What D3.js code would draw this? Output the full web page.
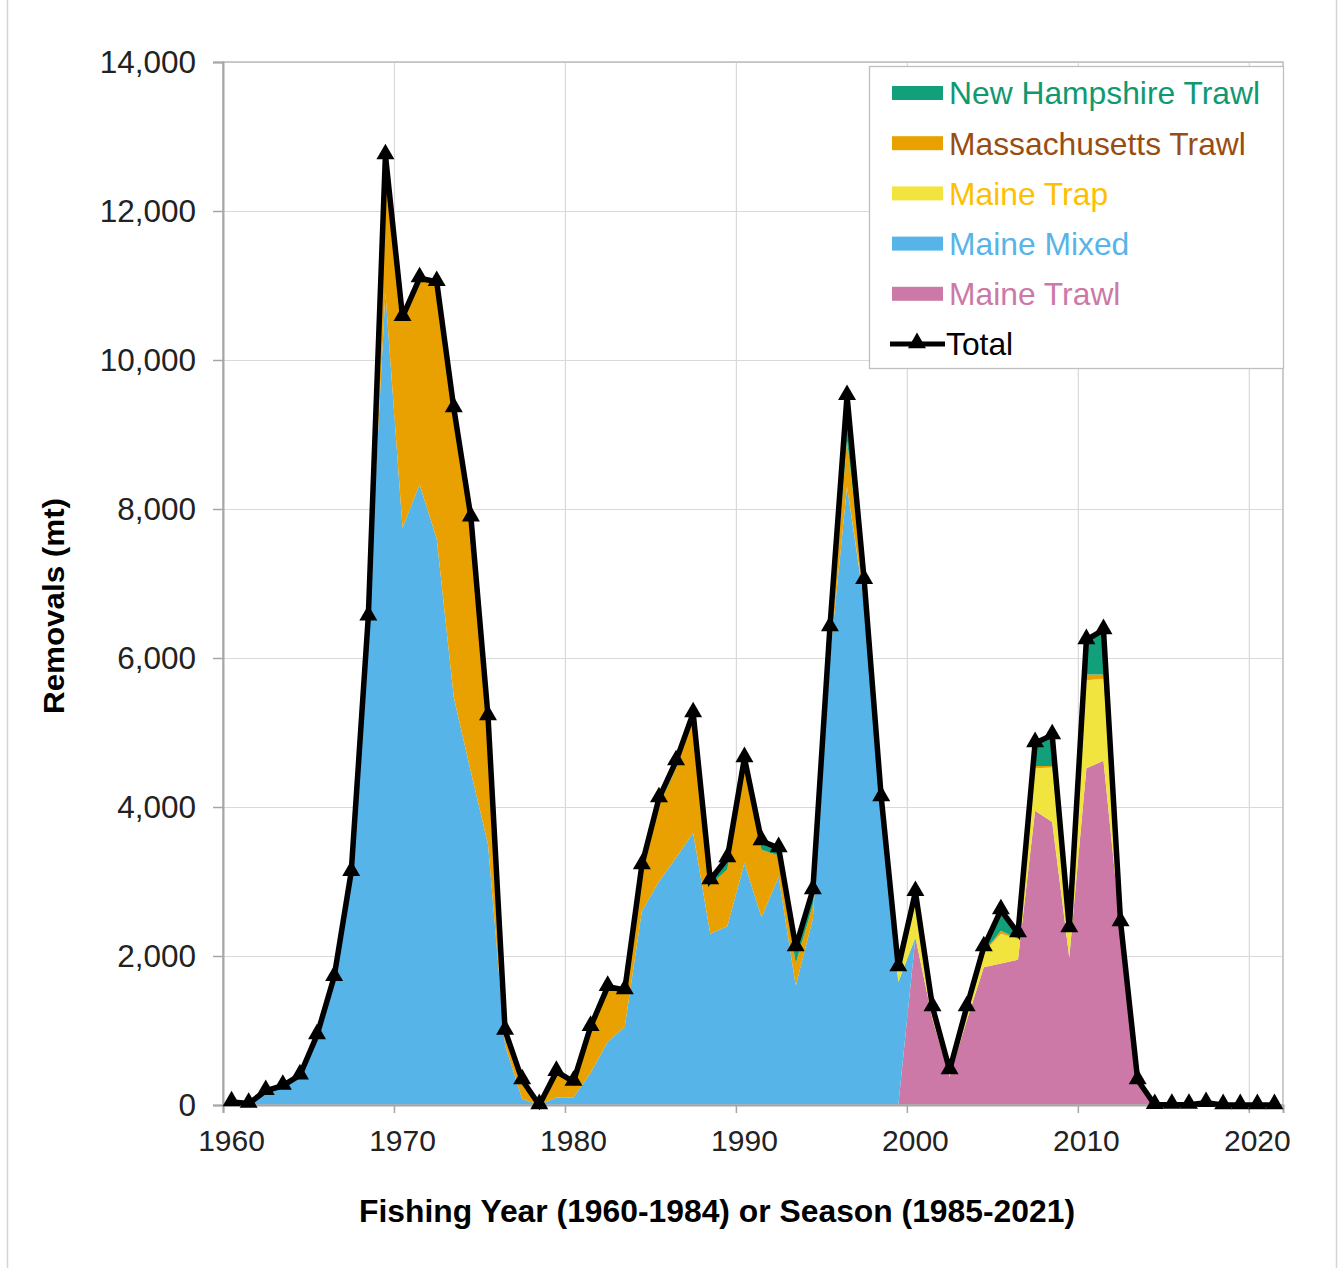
<!DOCTYPE html>
<html>
<head>
<meta charset="utf-8">
<script src="https://cdn.jsdelivr.net/npm/d3@7"></script>
<style>
  html, body { margin: 0; padding: 0; background: #fff; }
  svg { display: block; }
</style>
</head>
<body>
<svg id="chart" width="1343" height="1268"></svg>
<script>
// ---------------- DATA ----------------
const years = d3.range(1960, 2022);
const seriesKeys = ["Maine Trawl", "Maine Mixed", "Maine Trap", "Massachusetts Trawl", "New Hampshire Trawl"];
const legendOrder = ["New Hampshire Trawl", "Massachusetts Trawl", "Maine Trap", "Maine Mixed", "Maine Trawl"];

// Maine Mixed (1960-2021)
const maineMixed = [
  40, 20, 190, 260, 400, 940, 1720, 3130, 6560, 10900,
  7750, 8330, 7600, 5470, 4470, 3500, 800, 80, 0, 100,
  100, 430, 850, 1050, 2600, 3000, 3320, 3650, 2300, 2400,
  3250, 2520, 3060, 1600, 2500, 6000, 8300, 6750, 3950, 1650,
  0, 0, 0, 0, 0, 0, 0, 0, 0, 0,
  0, 0, 0, 0, 0, 0, 0, 0, 0, 0,
  0, 0
];
// Massachusetts Trawl
const massTrawl = [
  0, 0, 0, 0, 0, 0, 0, 0, 0, 1850,
  2830, 2770, 3450, 3885, 3420, 1720, 200, 255, 0, 347,
  213, 621, 738, 494, 600, 1020, 1200, 1540, 650, 765,
  1250, 904, 290, 300, 180, 215, 620, 160, 75, 30,
  30, 0, 0, 0, 0, 40, 0, 30, 20, 0,
  80, 60, 0, 0, 0, 0, 0, 0, 0, 0,
  0, 0
];
// Maine Trap
const maineTrap = [
  0, 0, 0, 0, 0, 0, 0, 0, 0, 0,
  0, 0, 0, 0, 0, 0, 0, 0, 0, 0,
  0, 0, 0, 0, 0, 0, 0, 0, 0, 0,
  0, 0, 0, 0, 0, 0, 0, 30, 60, 150,
  480, 145, 85, 170, 200, 400, 280, 570, 730, 340,
  1180, 1100, 90, 15, 0, 0, 0, 0, 0, 0,
  0, 0
];
// New Hampshire Trawl
const nhTrawl = [
  0, 0, 0, 0, 0, 0, 0, 0, 0, 0,
  0, 0, 0, 0, 0, 0, 0, 0, 0, 0,
  0, 0, 0, 0, 21, 100, 97, 70, 70, 150,
  158, 120, 100, 220, 206, 200, 600, 110, 50, 20,
  100, 20, 5, 15, 70, 277, 78, 309, 416, 55,
  462, 596, 16, 0, 0, 0, 0, 0, 0, 0,
  0, 0
];
// Maine Trawl
const maineTrawl = [
  0, 0, 0, 0, 0, 0, 0, 0, 0, 0,
  0, 0, 0, 0, 0, 0, 0, 0, 0, 0,
  0, 0, 0, 0, 0, 0, 0, 0, 0, 0,
  0, 0, 0, 0, 0, 0, 0, 0, 0, 0,
  2250, 1150, 380, 1130, 1850, 1900, 1950, 3950, 3800, 1980,
  4520, 4620, 2350, 320, 2, 5, 5, 30, 0, 0,
  0, 0
];

const yTicks = [0, 2000, 4000, 6000, 8000, 10000, 12000, 14000];
const xLabelYears = [1960, 1970, 1980, 1990, 2000, 2010, 2020];

const fillColors = {
  "New Hampshire Trawl": "#12a07a",
  "Massachusetts Trawl": "#e8a100",
  "Maine Trap": "#f1e43e",
  "Maine Mixed": "#56b4e9",
  "Maine Trawl": "#cc79a7"
};
const textColors = {
  "New Hampshire Trawl": "#0f9970",
  "Massachusetts Trawl": "#9a4d12",
  "Maine Trap": "#ffbf00",
  "Maine Mixed": "#56b4e9",
  "Maine Trawl": "#cc79a7"
};

// ---------------- BUILD TABLE ----------------
const table = years.map((yr, i) => ({
  year: yr,
  "Maine Trawl": maineTrawl[i],
  "Maine Mixed": maineMixed[i],
  "Maine Trap": maineTrap[i],
  "Massachusetts Trawl": massTrawl[i],
  "New Hampshire Trawl": nhTrawl[i]
}));
const totals = table.map(d => ({ year: d.year, total: d3.sum(seriesKeys, k => d[k]) }));

// ---------------- LAYOUT ----------------
const svg = d3.select("#chart");
const L = 223, R = 1283, T = 62, B = 1105;
const font = "'Liberation Sans', Arial, Helvetica, sans-serif";
const narrow = "'Liberation Sans Narrow', 'Arial Narrow', 'Liberation Sans', Arial, sans-serif";

const xBand = d3.scaleBand().domain(years).range([L, R]).padding(0);
const xLin = d3.scaleLinear().domain([1960, 2022]).range([L, R]);
const y = d3.scaleLinear().domain([0, 14000]).range([B, T]);
const cx = yr => xBand(yr) + xBand.bandwidth() / 2;

// figure frame lines
svg.append("line").attr("x1", 7.5).attr("x2", 7.5).attr("y1", 0).attr("y2", 1268).attr("stroke", "#d4d4d4").attr("stroke-width", 1.5);
svg.append("line").attr("x1", 1336.5).attr("x2", 1336.5).attr("y1", 0).attr("y2", 1268).attr("stroke", "#d4d4d4").attr("stroke-width", 1.5);

// plot background
svg.append("rect").attr("x", L).attr("y", T).attr("width", R - L).attr("height", B - T).attr("fill", "#fff");

// horizontal grid
svg.append("g")
  .attr("transform", `translate(${L},0)`)
  .call(d3.axisLeft(y).tickValues(yTicks).tickSize(-(R - L)).tickFormat(""))
  .call(g => g.select(".domain").remove())
  .call(g => g.selectAll("line").attr("stroke", "#d9d9d9").attr("stroke-width", 1.2));

// vertical grid at decade boundaries
svg.append("g")
  .attr("transform", `translate(0,${B})`)
  .call(d3.axisBottom(xLin).tickValues([1970, 1980, 1990, 2000, 2010, 2020]).tickSize(-(B - T)).tickFormat(""))
  .call(g => g.select(".domain").remove())
  .call(g => g.selectAll("line").attr("stroke", "#d9d9d9").attr("stroke-width", 1.2));

// stacked areas
const stack = d3.stack().keys(seriesKeys);
const stacked = stack(table);
const area = d3.area()
  .x(d => cx(d.data.year))
  .y0(d => y(d[0]))
  .y1(d => y(d[1]));
svg.append("g").selectAll("path")
  .data(stacked)
  .join("path")
  .attr("d", area)
  .attr("fill", d => fillColors[d.key])
  .attr("stroke", "none");

// plot border
svg.append("rect").attr("x", L).attr("y", T).attr("width", R - L).attr("height", B - T)
  .attr("fill", "none").attr("stroke", "#bdbdbd").attr("stroke-width", 1.5);

// y axis
svg.append("g")
  .attr("transform", `translate(${L},0)`)
  .call(d3.axisLeft(y).tickValues(yTicks).tickSize(10).tickPadding(17).tickFormat(d3.format(",")))
  .call(g => g.select(".domain").attr("stroke", "#a6a6a6").attr("stroke-width", 2))
  .call(g => g.selectAll(".tick line").attr("stroke", "#a6a6a6").attr("stroke-width", 1.5))
  .call(g => g.selectAll("text").attr("font-family", font).attr("font-size", 31.5).attr("fill", "#222"));

// x axis tick marks at boundaries
svg.append("g")
  .attr("transform", `translate(0,${B})`)
  .call(d3.axisBottom(xLin).tickValues([1960, 1970, 1980, 1990, 2000, 2010, 2020]).tickSize(8).tickFormat(""))
  .call(g => g.select(".domain").attr("stroke", "#a6a6a6").attr("stroke-width", 2))
  .call(g => g.selectAll(".tick line").attr("stroke", "#a6a6a6").attr("stroke-width", 1.5));

// x axis labels at category centers
svg.append("g")
  .attr("transform", `translate(0,${B})`)
  .call(d3.axisBottom(xBand).tickValues(xLabelYears).tickSize(0).tickPadding(25))
  .call(g => g.select(".domain").remove())
  .call(g => g.selectAll("text").attr("font-family", font).attr("font-size", 30).attr("fill", "#222"));

// total line
const line = d3.line().x(d => cx(d.year)).y(d => y(d.total));
svg.append("path")
  .datum(totals)
  .attr("d", line)
  .attr("fill", "none")
  .attr("stroke", "#000")
  .attr("stroke-width", 5.5)
  .attr("stroke-linejoin", "miter")
  .attr("stroke-miterlimit", 3);

// triangle markers
const tri = d3.symbol().type(d3.symbolTriangle).size(140);
svg.append("g").selectAll("path")
  .data(totals)
  .join("path")
  .attr("d", tri)
  .attr("transform", d => `translate(${cx(d.year)},${y(d.total) - 1})`)
  .attr("fill", "#000");

// axis titles
svg.append("text")
  .attr("transform", "translate(64,606) rotate(-90)")
  .attr("text-anchor", "middle")
  .attr("font-family", narrow)
  .attr("font-weight", "bold")
  .attr("font-size", 30)
  .attr("textLength", 216)
  .attr("lengthAdjust", "spacingAndGlyphs")
  .attr("fill", "#000")
  .text("Removals (mt)");

svg.append("text")
  .attr("x", 717).attr("y", 1222)
  .attr("text-anchor", "middle")
  .attr("font-family", narrow)
  .attr("font-weight", "bold")
  .attr("font-size", 31)
  .attr("textLength", 716)
  .attr("lengthAdjust", "spacingAndGlyphs")
  .attr("fill", "#000")
  .text("Fishing Year (1960-1984) or Season (1985-2021)");

// legend
const lg = svg.append("g");
lg.append("rect").attr("x", 869.5).attr("y", 66.5).attr("width", 414).attr("height", 302)
  .attr("fill", "#fff").attr("stroke", "#bfbfbf").attr("stroke-width", 1.3);
const rowY = i => 93 + i * 50.2;
legendOrder.forEach((k, i) => {
  lg.append("rect").attr("x", 892).attr("y", rowY(i) - 7).attr("width", 51).attr("height", 14)
    .attr("fill", fillColors[k]);
  lg.append("text").attr("x", 949).attr("y", rowY(i)).attr("dy", "0.36em")
    .attr("font-family", font).attr("font-size", 31.8).attr("fill", textColors[k]).text(k);
});
const ty = rowY(5);
lg.append("line").attr("x1", 890).attr("x2", 945).attr("y1", ty).attr("y2", ty)
  .attr("stroke", "#000").attr("stroke-width", 5);
lg.append("path").attr("d", tri).attr("transform", `translate(917,${ty - 1})`).attr("fill", "#000");
lg.append("text").attr("x", 946).attr("y", ty).attr("dy", "0.36em")
  .attr("font-family", font).attr("font-size", 31.8).attr("fill", "#000").text("Total");
</script>
</body>
</html>
